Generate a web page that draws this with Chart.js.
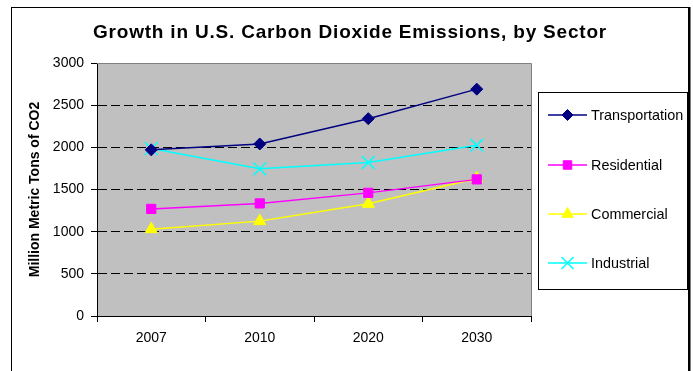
<!DOCTYPE html>
<html>
<head>
<meta charset="utf-8">
<script src="https://cdn.jsdelivr.net/npm/chart.js@4/dist/chart.umd.min.js"></script>
<style>
  html, body { margin: 0; padding: 0; background: #fff; }
  #wrap { width: 693px; height: 371px; position: relative; }
</style>
</head>
<body>
<div id="wrap"><canvas id="c" width="693" height="371"></canvas></div>
<script>
// Years on the category axis
const years = ['2007', '2010', '2020', '2030'];

// Emissions by sector, million metric tons of CO2
const transportation = [1970, 2040, 2340, 2690];
const residential    = [1270, 1335, 1460, 1620];
const commercial     = [1030, 1125, 1330, 1630];
const industrial     = [1985, 1745, 1820, 2025];

const seriesNames = ['Transportation', 'Residential', 'Commercial', 'Industrial'];
const yTicks = [0, 500, 1000, 1500, 2000, 2500, 3000];

const chartTitle = 'Growth in U.S. Carbon Dioxide Emissions, by Sector';
const yTitle = 'Million Metric Tons of CO2';

const FONT = 'Arial, "Liberation Sans", Helvetica, sans-serif';

function series(label, data, color, style, radius, pbw) {
  return {
    label, data,
    borderColor: color,
    backgroundColor: color,
    borderWidth: 1.5,
    pointStyle: style,
    pointRadius: radius,
    pointHoverRadius: radius,
    pointBorderWidth: pbw,
    pointBackgroundColor: color,
    pointBorderColor: color,
    tension: 0,
    fill: false
  };
}

const datasets = [
  series(seriesNames[0], transportation, '#000080', 'rectRot', 6, 1),
  series(seriesNames[1], residential,    '#FF00FF', 'rect', 6.5, 1),
  series(seriesNames[2], commercial,     '#FFFF00', 'triangle', 7, 1),
  series(seriesNames[3], industrial,     '#00FFFF', 'crossRot', 9, 1.5)
];

// Page frame, plot background, title and boxed legend
const decor = {
  id: 'decor',
  beforeDraw(chart) {
    const { ctx, chartArea: a } = chart;
    ctx.save();
    ctx.fillStyle = '#fff';
    ctx.fillRect(0, 0, chart.width, chart.height);
    ctx.fillStyle = '#C0C0C0';
    ctx.fillRect(a.left, a.top, a.right - a.left, a.bottom - a.top);
    ctx.restore();
  },
  beforeDatasetsDraw(chart) {
    const { ctx, chartArea: a } = chart;
    ctx.save();
    ctx.strokeStyle = '#808080';
    ctx.lineWidth = 1;
    ctx.beginPath();
    ctx.moveTo(a.left, Math.round(a.top) + 0.5);
    ctx.lineTo(Math.round(a.right) + 0.5, Math.round(a.top) + 0.5);
    ctx.lineTo(Math.round(a.right) + 0.5, a.bottom);
    ctx.stroke();
    ctx.restore();
  },
  afterDraw(chart) {
    const ctx = chart.ctx;
    ctx.save();
    // outer frame
    ctx.strokeStyle = '#000';
    ctx.lineWidth = 1;
    ctx.strokeRect(11.5, 7.5, 677, 400);
    ctx.lineWidth = 2;
    ctx.beginPath();
    ctx.moveTo(689.5, 7);
    ctx.lineTo(689.5, 371);
    ctx.stroke();

    // title
    ctx.fillStyle = '#000';
    ctx.font = 'bold 19px ' + FONT;
    if ('letterSpacing' in ctx) ctx.letterSpacing = '0.8px';
    ctx.textAlign = 'center';
    ctx.textBaseline = 'middle';
    ctx.fillText(chartTitle, 350, 33);
    if ('letterSpacing' in ctx) ctx.letterSpacing = '0px';

    // legend box
    ctx.lineWidth = 1;
    ctx.strokeStyle = '#000';
    ctx.strokeRect(538.5, 92.5, 149, 197);
    const rows = [115, 165, 214, 263];
    ctx.font = '14.4px ' + FONT;
    ctx.textAlign = 'left';
    chart.data.datasets.forEach((ds, i) => {
      const y = rows[i];
      ctx.strokeStyle = ds.borderColor;
      ctx.lineWidth = 1.5;
      ctx.beginPath();
      ctx.moveTo(548, y);
      ctx.lineTo(587, y);
      ctx.stroke();
      ctx.fillStyle = ds.pointBackgroundColor;
      ctx.strokeStyle = ds.pointBorderColor;
      ctx.lineWidth = ds.pointBorderWidth;
      if (Chart.helpers && Chart.helpers.drawPoint) {
        Chart.helpers.drawPoint(ctx, {
          pointStyle: ds.pointStyle,
          radius: ds.pointRadius - 0.5,
          rotation: 0,
          borderWidth: ds.pointBorderWidth
        }, 567.5, y);
      }
      ctx.fillStyle = '#000';
      ctx.fillText(ds.label, 591, y + 1);
    });
    ctx.restore();
  }
};

new Chart(document.getElementById('c'), {
  type: 'line',
  data: { labels: years, datasets },
  plugins: [decor],
  options: {
    responsive: false,
    animation: false,
    layout: { padding: { left: 0, right: 162, top: 63, bottom: 0 } },
    plugins: {
      legend: { display: false },
      title: { display: false },
      tooltip: { enabled: false }
    },
    scales: {
      x: {
        type: 'category',
        offset: true,
        afterFit(scale) { scale.height = 55; },
        grid: {
          offset: true,
          drawOnChartArea: false,
          drawTicks: true,
          tickLength: 6,
          tickColor: '#000',
          tickWidth: 1
        },
        border: { display: true, color: '#000', width: 1 },
        ticks: {
          color: '#000',
          font: { family: FONT, size: 14 },
          padding: 7.5,
          maxRotation: 0
        }
      },
      y: {
        min: 0,
        max: 3000,
        afterFit(scale) { scale.width = 97; },
        afterBuildTicks(scale) { scale.ticks = yTicks.map(v => ({ value: v })); },
        grid: {
          color: (c) => (c.tick && (c.tick.value === 0 || c.tick.value === 3000)) ? 'rgba(0,0,0,0)' : '#000',
          lineWidth: 1,
          drawTicks: true,
          tickLength: 6,
          tickColor: '#000',
          tickBorderDash: []
        },
        border: { display: true, color: '#000', width: 1, dash: [9, 4] },
        ticks: {
          color: '#000',
          font: { family: FONT, size: 14 },
          padding: 7,
          callback: (v) => String(v)
        },
        title: {
          display: true,
          text: yTitle,
          color: '#000',
          font: { family: FONT, size: 14, weight: 'bold' },
          padding: { top: 27, bottom: 0 }
        }
      }
    }
  }
});
</script>
</body>
</html>
